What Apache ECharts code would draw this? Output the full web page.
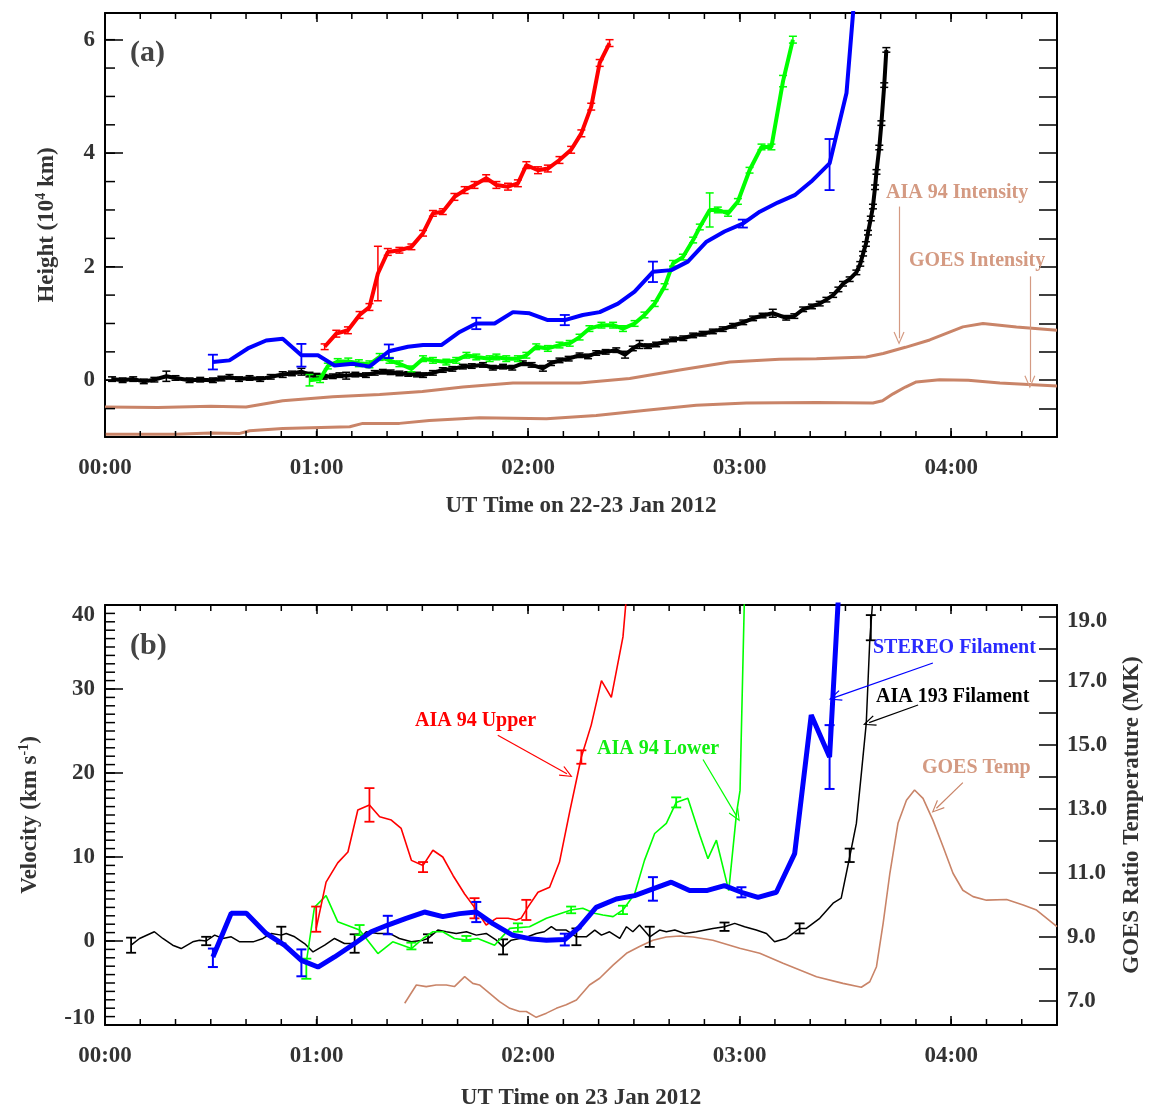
<!DOCTYPE html>
<html>
<head>
<meta charset="utf-8">
<script src="https://cdn.jsdelivr.net/npm/echarts@6/dist/echarts.min.js"></script>
<style>
  html, body { margin: 0; padding: 0; background: #fff; }
  #main { width: 1158px; height: 1118px; }
</style>
</head>
<body>
<div id="main"></div>
<script>
// time in minutes after 00:00 UT

// ---- panel (a): heights, 10^4 km ----
const aia94UpperHtTime = [62.3, 65.6, 68.9, 72.2, 75, 77.4, 80.2, 83.5, 86.9, 90.2, 93, 95.8, 99.1, 102, 104.8, 108.1, 111, 114.3, 117.1, 119.5, 122.8, 125.6, 128.9, 132.2, 135.1, 137.9, 140.3, 143.1];
const aia94UpperHt = [0.59, 0.82, 0.88, 1.15, 1.29, 1.88, 2.26, 2.29, 2.35, 2.59, 2.94, 2.97, 3.23, 3.35, 3.44, 3.56, 3.44, 3.41, 3.47, 3.79, 3.70, 3.73, 3.88, 4.06, 4.35, 4.82, 5.59, 5.94];
const aia94UpperHtErr = [0.05, 0.06, 0.06, 0.06, 0.06, 0.48, 0.06, 0.05, 0.05, 0.05, 0.05, 0.05, 0.06, 0.06, 0.06, 0.06, 0.06, 0.06, 0.06, 0.06, 0.06, 0.06, 0.06, 0.06, 0.06, 0.06, 0.06, 0.06];

const aia94LowerHtTime = [58, 61, 63.2, 66, 69, 72, 75, 77.9, 80.7, 83.5, 86.9, 90.2, 93, 96.8, 99.6, 102.5, 105.3, 109.1, 111, 113.8, 117.1, 119.5, 122.3, 125.6, 128.9, 131.8, 134.6, 137.4, 140.8, 144.1, 146.9, 150.2, 153, 155.9, 158.7, 161.1, 163.9, 166.8, 168.7, 171.5, 173.8, 176.7, 179.5, 182.8, 186.2, 189, 192.3, 195.1];
const aia94LowerHt = [0.0, 0.02, 0.25, 0.33, 0.33, 0.3, 0.28, 0.41, 0.35, 0.29, 0.2, 0.38, 0.35, 0.32, 0.35, 0.44, 0.41, 0.38, 0.41, 0.38, 0.38, 0.44, 0.59, 0.56, 0.62, 0.65, 0.76, 0.91, 0.97, 0.97, 0.91, 1.0, 1.15, 1.35, 1.65, 2.06, 2.17, 2.47, 2.7, 3.0, 3.0, 2.94, 3.15, 3.7, 4.11, 4.11, 5.27, 6.0];
const aia94LowerHtErr = [0.1, 0.06, 0.05, 0.05, 0.06, 0.06, 0.06, 0.06, 0.05, 0.05, 0.05, 0.05, 0.05, 0.05, 0.05, 0.05, 0.05, 0.05, 0.05, 0.05, 0.05, 0.05, 0.05, 0.05, 0.05, 0.05, 0.05, 0.05, 0.05, 0.05, 0.05, 0.05, 0.05, 0.05, 0.05, 0.05, 0.05, 0.05, 0.05, 0.3, 0.05, 0.05, 0.05, 0.05, 0.05, 0.05, 0.1, 0.06];

const stereoHtTime = [30.6, 35.3, 40.5, 45.7, 50.4, 55.7, 60.4, 65.1, 70.3, 75, 80.5, 85.9, 90.2, 95.4, 100.6, 105.3, 110.5, 115.7, 120.4, 125.6, 130.4, 135.5, 140.3, 145.5, 150.2, 155.4, 160.6, 165.3, 170.6, 175.7, 180.9, 185.7, 190.8, 195.6, 200.3, 205.5, 210.3, 212.6];
const stereoHt = [0.32, 0.35, 0.56, 0.7, 0.73, 0.44, 0.44, 0.26, 0.29, 0.24, 0.51, 0.59, 0.62, 0.62, 0.85, 1.0, 1.0, 1.2, 1.18, 1.06, 1.06, 1.15, 1.2, 1.35, 1.56, 1.91, 1.94, 2.09, 2.44, 2.62, 2.76, 2.97, 3.13, 3.26, 3.5, 3.82, 5.06, 6.8];
const stereoHtErrBars = [[30.6, 0.32, 0.13], [55.7, 0.44, 0.2], [80.5, 0.51, 0.12], [105.3, 1.0, 0.1], [130.4, 1.06, 0.09], [155.4, 1.91, 0.18], [180.9, 2.76, 0.07], [205.5, 3.8, 0.45]];

const aia193HtTime = [2, 5, 8, 11, 14, 17.4, 20, 24, 27, 30.6, 33, 35.3, 38, 41, 44, 47, 50.4, 53, 55.7, 58, 60, 62, 64.6, 66.5, 68.4, 71, 74, 76.5, 78.8, 81, 83.5, 86, 88.5, 90.2, 93, 95.8, 98.5, 101.5, 104, 107.2, 110, 112.9, 115.5, 118.5, 121, 124.2, 126.5, 128.9, 131.5, 134.6, 137, 139.3, 142, 145, 147.5, 149.7, 151.6, 154, 156.3, 158.8, 161.1, 164, 166.8, 169.5, 172.4, 175.2, 178.1, 181, 183.8, 186.5, 189.4, 193.2, 195.5, 198, 200.5, 202.7, 204.6, 206.5, 208, 209.3, 211.2, 213.1, 214.2, 215, 215.8, 216.4, 217.2, 217.8, 218.4, 218.8, 219.6, 220.2, 221, 221.6];
const aia193Ht = [0.02, 0.0, 0.02, -0.02, 0.01, 0.07, 0.04, 0.0, 0.01, 0.0, 0.03, 0.06, 0.02, 0.04, 0.02, 0.06, 0.1, 0.12, 0.15, 0.1, 0.08, 0.06, 0.07, 0.09, 0.08, 0.1, 0.09, 0.13, 0.15, 0.14, 0.12, 0.11, 0.1, 0.09, 0.13, 0.18, 0.2, 0.24, 0.25, 0.27, 0.22, 0.24, 0.22, 0.3, 0.27, 0.21, 0.3, 0.35, 0.38, 0.44, 0.42, 0.48, 0.5, 0.53, 0.45, 0.56, 0.63, 0.6, 0.63, 0.68, 0.72, 0.74, 0.79, 0.82, 0.86, 0.9, 0.96, 1.02, 1.09, 1.14, 1.18, 1.1, 1.13, 1.25, 1.3, 1.35, 1.42, 1.5, 1.6, 1.7, 1.78, 1.9, 2.05, 2.23, 2.4, 2.6, 2.85, 3.06, 3.4, 3.67, 4.1, 4.53, 5.2, 5.82];
const aia193HtErr = [0.04, 0.04, 0.04, 0.04, 0.04, 0.09, 0.04, 0.04, 0.04, 0.04, 0.04, 0.04, 0.04, 0.04, 0.04, 0.04, 0.05, 0.04, 0.06, 0.04, 0.04, 0.04, 0.04, 0.04, 0.06, 0.04, 0.04, 0.04, 0.04, 0.04, 0.04, 0.04, 0.04, 0.04, 0.04, 0.04, 0.04, 0.04, 0.04, 0.04, 0.04, 0.04, 0.04, 0.04, 0.04, 0.05, 0.04, 0.04, 0.04, 0.04, 0.04, 0.04, 0.04, 0.04, 0.06, 0.04, 0.07, 0.04, 0.04, 0.04, 0.04, 0.04, 0.04, 0.04, 0.04, 0.04, 0.04, 0.04, 0.04, 0.04, 0.07, 0.04, 0.04, 0.04, 0.04, 0.04, 0.04, 0.04, 0.04, 0.04, 0.04, 0.04, 0.04, 0.04, 0.04, 0.04, 0.04, 0.04, 0.04, 0.04, 0.04, 0.04, 0.04, 0.04];

// normalised intensity curves drawn in height units
const aia94IntTime = [0, 15, 30, 40, 50.4, 64.6, 77.9, 90, 101.5, 115.7, 134.6, 148.8, 163, 177.2, 191.3, 201.8, 215.9, 220.7, 227, 233.9, 243.3, 249, 258.5, 270];
const aia94Int = [-0.47, -0.48, -0.46, -0.47, -0.36, -0.29, -0.25, -0.2, -0.12, -0.05, -0.05, 0.03, 0.18, 0.32, 0.37, 0.38, 0.41, 0.47, 0.58, 0.71, 0.94, 1.0, 0.94, 0.88];
const goesIntTime = [0, 20, 30, 38, 41, 50.4, 69.4, 73.1, 83.5, 92, 106.2, 125.2, 139.3, 153.5, 167.7, 181.9, 201.8, 217.8, 220.5, 223.5, 227, 230.1, 236.7, 244.8, 253.8, 270];
const goesInt = [-0.95, -0.95, -0.93, -0.94, -0.89, -0.85, -0.82, -0.76, -0.76, -0.71, -0.66, -0.68, -0.62, -0.53, -0.44, -0.40, -0.39, -0.40, -0.36, -0.24, -0.12, -0.03, 0.01, 0.0, -0.05, -0.1];

// ---- panel (b): velocities, km/s ; GOES temperature, MK ----
const upperVelTime = [59.9, 62.7, 66.0, 68.9, 71.7, 75.0, 77.9, 81.2, 84.0, 86.9, 90.2, 93.0, 95.8, 98.7, 102.0, 104.8, 108.1, 111.0, 114.3, 116.6, 118.0, 119.9, 122.8, 126.1, 128.9, 131.8, 135.1, 137.9, 140.8, 143.6, 146.9, 148.5];
const upperVel = [1.5, 7.0, 9.3, 10.6, 15.6, 16.2, 14.8, 14.4, 13.4, 9.6, 9.0, 10.8, 10.0, 7.8, 5.6, 4.0, 1.9, 2.7, 2.7, 2.5, 2.7, 4.0, 5.8, 6.4, 9.4, 15.4, 21.9, 25.7, 31.0, 29.0, 36.2, 44];
const upperVelErrBars = [[59.9, 2.6, 1.5], [75.0, 16.2, 2.0], [90.2, 8.8, 0.6], [104.8, 3.9, 1.2], [119.5, 3.7, 1.2], [135.1, 21.9, 0.8]];

const lowerVelTime = [57.1, 59.4, 62.7, 66.0, 72.2, 77.4, 81.6, 86.9, 90.2, 93.0, 95.8, 99.1, 102.5, 105.7, 110.5, 114.8, 120.4, 125.2, 132.2, 135.5, 138.8, 141.2, 144.1, 146.9, 150.2, 153.0, 155.9, 159.2, 162.0, 165.3, 168.7, 171.0, 173.4, 176.9, 179.1, 180.1, 181.3, 181.8];
const lowerVel = [-2.5, 4.0, 5.4, 2.3, 1.3, -1.5, -0.1, -0.9, 0.3, 1.1, 1.1, 0.3, 0.1, 0.3, -0.5, 1.5, 1.7, 2.7, 3.7, 3.9, 3.3, 3.1, 2.9, 3.7, 5.6, 9.6, 12.8, 14.0, 16.5, 17.0, 12.6, 9.8, 12.0, 6.0, 15.2, 17.9, 40, 44];
const lowerVelErrBars = [[57.1, -3.3, 1.2], [72.2, 1.3, 0.6], [86.9, -0.6, 0.4], [102.5, 0.3, 0.3], [117.1, 1.6, 0.5], [132.2, 3.7, 0.4], [146.9, 3.7, 0.5], [162.0, 16.5, 0.6]];

const stereoVelTime = [30.6, 35.8, 40.1, 45.7, 50.9, 55.7, 60.4, 65.1, 70.8, 75.5, 80.2, 85.4, 90.6, 95.8, 100.6, 105.3, 110.0, 115.7, 120.4, 125.2, 130.4, 134.6, 139.3, 145.0, 150.2, 155.4, 160.6, 165.8, 170.6, 175.7, 180.5, 185.2, 190.4, 195.6, 200.3, 205.5, 207.9, 208.5];
const stereoVel = [-1.9, 3.3, 3.3, 0.9, -0.5, -2.3, -3.1, -1.9, -0.3, 1.1, 1.9, 2.7, 3.45, 2.9, 3.26, 3.45, 2.07, 0.68, 0.28, 0.08, 0.17, 1.67, 4.0, 5.0, 5.4, 6.2, 7.0, 6.0, 6.0, 6.6, 5.8, 5.2, 5.8, 10.4, 26.9, 21.9, 40.2, 44];
const stereoVelErrBars = [[30.6, -2.0, 1.1], [55.7, -2.6, 1.6], [80.2, 1.9, 1.1], [105.3, 3.45, 1.2], [130.4, 0.17, 0.7], [155.4, 6.2, 1.4], [180.5, 5.8, 0.6], [205.5, 21.9, 3.8]];

const aia193VelTime = [7.4, 9.8, 14, 16.4, 19.2, 21.6, 24.9, 26.8, 28.7, 31.1, 33.4, 35.8, 38.2, 42, 44.8, 47.2, 50, 51.4, 53.8, 56.6, 59, 62.3, 65.1, 67.9, 70.8, 74.1, 77.4, 80.7, 83.5, 86.9, 90.2, 91.6, 94.4, 96.8, 99.6, 102.5, 105.3, 108.1, 111, 112.9, 115.2, 117.6, 119.9, 122.3, 124.6, 126.6, 128, 130.8, 133.7, 136.5, 138.9, 140.8, 143.1, 146, 147.9, 149.7, 151.6, 154.5, 157.3, 159.2, 161.6, 164.4, 167.7, 172.4, 175.7, 178.6, 181.4, 184.7, 187.6, 189.9, 193.2, 197, 198.9, 202.7, 206.5, 208.8, 211.2, 213.1, 214.5, 215.9, 216.9, 217.6, 218.2];
const aia193Vel = [-0.5, 0.3, 1.1, 0.3, -0.5, -0.9, -0.1, 0.1, 0.0, 0.7, 0.3, 0.5, -0.1, -0.1, 0.3, 0.9, 0.7, 0.9, 0.5, -0.3, -1.3, -0.5, 0.3, -0.3, -0.3, 1.1, 0.9, 0.9, 0.3, -0.1, 0.1, 0.3, 1.3, 1.1, 0.9, 1.1, 0.7, 0.9, 0.1, -0.7, 0.1, 0.3, 0.5, 0.9, 1.1, 1.7, 1.3, 1.3, 0.5, 0.5, 1.3, 0.7, 1.1, 0.3, 1.7, 1.1, 1.9, 0.5, 1.3, 1.1, 1.3, 0.9, 1.1, 1.5, 1.7, 2.1, 1.7, 1.3, 0.9, -0.1, 0.3, 1.5, 1.5, 2.7, 4.5, 5.1, 10.0, 14.0, 19.9, 25.9, 35.8, 39.8, 44];
const aia193VelErrBars = [[7.4, -0.5, 0.9], [28.7, 0.0, 0.5], [50.0, 0.7, 1.0], [70.8, -0.3, 1.1], [91.6, 0.3, 0.5], [112.9, -0.7, 0.9], [133.7, 0.5, 1.0], [154.5, 0.5, 1.2], [175.7, 1.7, 0.5], [197.0, 1.5, 0.6], [211.2, 10.2, 0.8], [217.2, 37.3, 1.5]];

const goesTempTime = [85, 88.3, 91.1, 93.9, 96.8, 99.1, 102, 104.3, 106.2, 109.1, 111.9, 114.8, 117.6, 119.5, 122.3, 125.2, 128, 130.8, 133.7, 137.4, 140.3, 144.1, 147.9, 151.6, 155.4, 159.2, 163, 166.8, 172.4, 180, 185.7, 192.3, 201.8, 209.3, 214.5, 216.9, 218.8, 220.7, 222.6, 224.9, 227.3, 229.6, 232, 234.8, 237.7, 240.5, 243.3, 246.2, 250, 255.7, 260.4, 264.2, 270];
const goesTemp = [6.93, 7.5, 7.45, 7.5, 7.5, 7.45, 7.76, 7.55, 7.5, 7.24, 6.98, 6.77, 6.67, 6.67, 6.49, 6.62, 6.77, 6.88, 7.03, 7.5, 7.71, 8.12, 8.49, 8.7, 8.9, 9.0, 9.03, 9.0, 8.9, 8.65, 8.49, 8.18, 7.76, 7.55, 7.43, 7.6, 8.07, 9.43, 10.99, 12.55, 13.27, 13.59, 13.33, 12.65, 11.82, 10.99, 10.46, 10.26, 10.15, 10.17, 10.0, 9.84, 9.32];

// tick labels
const hourTicks = [0, 60, 120, 180, 240];
const heightTicks = [0, 2, 4, 6];
const velTicks = [-10, 0, 10, 20, 30, 40];
const tempTicks = [7, 9, 11, 13, 15, 17, 19];

// annotation arrows [[t0, v0], [t1, v1]] in each panel's data units
const arrowAia94Int = [[225.2, 3.06], [225.2, 0.74]];
const arrowGoesInt = [[262.3, 1.83], [262.3, -0.03]];
const arrowUpper = [[111.4, 24.5], [131.0, 19.9]];
const arrowLower = [[169.6, 21.6], [179.1, 14.9]];
const arrowStereo = [[234.8, 33.1], [207.0, 29.0]];
const arrowAia193 = [[230.6, 28.1], [216.7, 26.0]];
const arrowGoesTemp = [[243.3, 13.82], [235.8, 13.02]];

const FONT = 'Liberation Serif';
const TXT = '#333';
const BROWN = '#c98468';
const BROWN_TXT = '#d49a82';
const RED = '#ff0000', GREEN = '#00ff00', BLUE = '#0000ff', BLACK = '#000000';

const X_MIN = 0, X_MAX = 270;
const H_MIN = -1, H_MAX = 6.47;
const V_MIN = -10, V_MAX = 40;
const T_MIN = 6.25, T_MAX = 19.37;

function steps(from, to, step) {
  const out = [];
  for (let v = from; v <= to + 1e-9; v += step) out.push(Math.round(v * 100) / 100);
  return out;
}

const chart = echarts.init(document.getElementById('main'));

const pairs = (ts, vs) => ts.map((t, i) => [t, vs[i]]);
const barsOf = (ts, vs, es) => ts.map((t, i) => [t, vs[i] - es[i], vs[i] + es[i]]);
const barsFrom = list => list.map(d => [d[0], d[1] - d[2], d[1] + d[2]]);

function errRender(cap, width) {
  return function (params, api) {
    const p1 = api.coord([api.value(0), api.value(1)]);
    const p2 = api.coord([api.value(0), api.value(2)]);
    const st = { stroke: api.visual('color'), lineWidth: width };
    return {
      type: 'group',
      children: [
        { type: 'line', shape: { x1: p1[0], y1: p1[1], x2: p2[0], y2: p2[1] }, style: st },
        { type: 'line', shape: { x1: p1[0] - cap, y1: p1[1], x2: p1[0] + cap, y2: p1[1] }, style: st },
        { type: 'line', shape: { x1: p2[0] - cap, y1: p2[1], x2: p2[0] + cap, y2: p2[1] }, style: st }
      ]
    };
  };
}

// minor tick marks on the frame, placed through the axes' own scales
function minorTicks(xi, yi, values, dir, len, yLo, yHi) {
  return {
    type: 'custom', xAxisIndex: xi, yAxisIndex: yi, silent: true, clip: false, animation: false, z: 10,
    data: values.map(v => dir === 'x' ? [v, yLo] : [X_MIN, v]),
    encode: { x: 0, y: 1 },
    renderItem: function (params, api) {
      const st = { stroke: '#000', lineWidth: 1.5 };
      if (dir === 'x') {
        const b = api.coord([api.value(0), yLo]);
        const t = api.coord([api.value(0), yHi]);
        return {
          type: 'group', children: [
            { type: 'line', shape: { x1: b[0], y1: b[1], x2: b[0], y2: b[1] - len }, style: st },
            { type: 'line', shape: { x1: t[0], y1: t[1], x2: t[0], y2: t[1] + len }, style: st }
          ]
        };
      }
      const l = api.coord([X_MIN, api.value(1)]);
      return { type: 'line', shape: { x1: l[0], y1: l[1], x2: l[0] + len, y2: l[1] }, style: st };
    }
  };
}

const CHEVRON = 'path://M0,12 L5,0 L10,12 L9,12.6 L5,2.6 L1,12.6 Z';

function arrow(a, color) {
  return {
    silent: true,
    animation: false,
    symbol: ['none', CHEVRON],
    symbolSize: [11, 13],
    label: { show: false },
    lineStyle: { color: color, width: 1.2, type: 'solid' },
    emphasis: { disabled: true },
    data: [[{ coord: a[0] }, { coord: a[1] }]]
  };
}

function lineS(xi, yi, data, color, width, z, extra) {
  return Object.assign({
    type: 'line', xAxisIndex: xi, yAxisIndex: yi, data: data,
    symbol: 'none', showSymbol: false, clip: true, animation: false, z: z,
    lineStyle: { color: color, width: width }, itemStyle: { color: color }
  }, extra || {});
}

function errS(xi, yi, data, color, cap, width, z) {
  return {
    type: 'custom', xAxisIndex: xi, yAxisIndex: yi, data: data,
    renderItem: errRender(cap, width), clip: true, animation: false, z: z,
    encode: { x: 0, y: [1, 2] }, itemStyle: { color: color }
  };
}

const labelFont = { fontFamily: FONT, fontWeight: 'bold', fontSize: 23, color: TXT };
const frameLine = { show: true, onZero: false, lineStyle: { color: '#000', width: 2 } };
const tick = (len, values) => ({ show: true, inside: true, length: len, customValues: values, lineStyle: { color: '#000', width: 1.5 } });

function xMain(grid, title, nameGap) {
  const base = { gridIndex: grid, type: 'value', min: X_MIN, max: X_MAX, splitLine: { show: false } };
  return [
    Object.assign({}, base, {
      position: 'bottom', axisLine: frameLine, axisTick: tick(9, hourTicks),
      axisLabel: Object.assign({ customValues: hourTicks, margin: 20, formatter: v => String(v / 60).padStart(2, '0') + ':00' }, labelFont),
      name: title, nameLocation: 'middle', nameGap: nameGap, nameTextStyle: labelFont
    }),
    Object.assign({}, base, { position: 'top', axisLine: frameLine, axisTick: tick(9, hourTicks), axisLabel: { show: false } })
  ];
}

function supRich() {
  return { sup: { fontFamily: FONT, fontWeight: 'bold', fontSize: 14, color: TXT, verticalAlign: 'top', padding: [0, 0, 12, 0] } };
}

const yAxes = [
  // 0: height, left, labelled
  {
    gridIndex: 0, type: 'value', min: H_MIN, max: H_MAX, position: 'left', splitLine: { show: false },
    axisLine: frameLine, axisTick: tick(18, heightTicks),
    axisLabel: Object.assign({ customValues: heightTicks, margin: 10 }, labelFont),
    name: 'Height (10{sup|4} km)', nameLocation: 'middle', nameGap: 45, nameRotate: 90,
    nameTextStyle: Object.assign({ rich: supRich() }, labelFont)
  },
  // 1: height right frame
  {
    gridIndex: 0, type: 'value', min: H_MIN, max: H_MAX, position: 'right', splitLine: { show: false },
    axisLine: frameLine, axisTick: tick(18, steps(H_MIN, H_MAX, 0.5)), axisLabel: { show: false }
  },
  // 2: velocity, left, labelled
  {
    gridIndex: 1, type: 'value', min: V_MIN, max: V_MAX, position: 'left', splitLine: { show: false },
    axisLine: frameLine, axisTick: tick(18, velTicks),
    axisLabel: Object.assign({
      customValues: velTicks, margin: 10,
      formatter: v => v === V_MAX ? '{dn|' + v + '}' : (v === V_MIN ? '{up|' + v + '}' : String(v)),
      rich: {
        dn: Object.assign({ padding: [20, 0, 0, 0] }, labelFont),
        up: Object.assign({ padding: [0, 0, 14, 0] }, labelFont)
      }
    }, labelFont),
    name: 'Velocity (km s{sup|-1})', nameLocation: 'middle', nameGap: 62, nameRotate: 90,
    nameTextStyle: Object.assign({ rich: supRich() }, labelFont)
  },
  // 3: temperature, right
  {
    gridIndex: 1, type: 'value', min: T_MIN, max: T_MAX, position: 'right', splitLine: { show: false },
    axisLine: frameLine, axisTick: tick(18, steps(7, 19, 1)),
    axisLabel: Object.assign({
      customValues: tempTicks, margin: 10,
      formatter: v => v === 19 ? '{dn|' + v.toFixed(1) + '}' : v.toFixed(1),
      rich: { dn: Object.assign({ padding: [9, 0, 0, 0] }, labelFont) }
    }, labelFont),
    name: 'GOES Ratio Temperature (MK)', nameLocation: 'middle', nameGap: 64, nameRotate: 90,
    nameTextStyle: labelFont
  }
];

// x axis indices: 0 (a) bottom, 1 (a) top, 2 (b) bottom, 3 (b) top
const XA = 0, XB = 2;
const YH = 0, YV = 2, YT = 3;

const series = [
  // frame minor ticks
  minorTicks(XA, YH, steps(X_MIN, X_MAX, 10), 'x', 6, H_MIN, H_MAX),
  minorTicks(XA, YH, steps(H_MIN, H_MAX, 0.5), 'y', 10),
  minorTicks(XB, YV, steps(X_MIN, X_MAX, 10), 'x', 6, V_MIN, V_MAX),
  minorTicks(XB, YV, steps(V_MIN, V_MAX, 1), 'y', 10),
  // panel (a)
  lineS(XA, YH, pairs(aia94IntTime, aia94Int), BROWN, 3, 2, { markLine: arrow(arrowAia94Int, BROWN_TXT) }),
  lineS(XA, YH, pairs(goesIntTime, goesInt), BROWN, 3, 2, { markLine: arrow(arrowGoesInt, BROWN_TXT) }),
  lineS(XA, YH, pairs(aia193HtTime, aia193Ht), BLACK, 4, 3),
  errS(XA, YH, barsOf(aia193HtTime, aia193Ht, aia193HtErr), BLACK, 4, 1.5, 3),
  lineS(XA, YH, pairs(aia94LowerHtTime, aia94LowerHt), GREEN, 4, 4),
  errS(XA, YH, barsOf(aia94LowerHtTime, aia94LowerHt, aia94LowerHtErr), GREEN, 4, 1.5, 4),
  lineS(XA, YH, pairs(stereoHtTime, stereoHt), BLUE, 4, 5),
  errS(XA, YH, barsFrom(stereoHtErrBars), BLUE, 5, 1.8, 5),
  lineS(XA, YH, pairs(aia94UpperHtTime, aia94UpperHt), RED, 4, 6),
  errS(XA, YH, barsOf(aia94UpperHtTime, aia94UpperHt, aia94UpperHtErr), RED, 4, 1.5, 6),
  // panel (b)
  lineS(XB, YT, pairs(goesTempTime, goesTemp), BROWN, 1.6, 2, { markLine: arrow(arrowGoesTemp, BROWN) }),
  lineS(XB, YV, pairs(aia193VelTime, aia193Vel), BLACK, 1.5, 3, { markLine: arrow(arrowAia193, BLACK) }),
  errS(XB, YV, barsFrom(aia193VelErrBars), BLACK, 5, 1.8, 3),
  lineS(XB, YV, pairs(lowerVelTime, lowerVel), GREEN, 1.6, 4, { markLine: arrow(arrowLower, GREEN) }),
  errS(XB, YV, barsFrom(lowerVelErrBars), GREEN, 5, 1.8, 4),
  lineS(XB, YV, pairs(upperVelTime, upperVel), RED, 1.6, 5, { markLine: arrow(arrowUpper, RED) }),
  errS(XB, YV, barsFrom(upperVelErrBars), RED, 5, 1.8, 5),
  lineS(XB, YV, pairs(stereoVelTime, stereoVel), BLUE, 5, 6, { markLine: arrow(arrowStereo, BLUE) }),
  errS(XB, YV, barsFrom(stereoVelErrBars), BLUE, 5, 2, 6)
];

function note(x, y, text, color, size) {
  return {
    type: 'text', x: x, y: y, z: 100, silent: true,
    style: { text: text, fill: color, font: 'bold ' + size + 'px "' + FONT + '"', align: 'left', verticalAlign: 'middle' }
  };
}

const graphics = [
  note(130, 53, '(a)', '#444', 30),
  note(130, 646, '(b)', '#444', 30),
  note(886, 193, 'AIA 94 Intensity', BROWN_TXT, 20),
  note(909, 261, 'GOES Intensity', BROWN_TXT, 20),
  note(415, 721, 'AIA 94 Upper', RED, 20),
  note(597, 749, 'AIA 94 Lower', '#11ee11', 20),
  note(873, 648, 'STEREO Filament', '#2a2aff', 20),
  note(876, 697, 'AIA 193 Filament', BLACK, 20),
  note(922, 768, 'GOES Temp', BROWN_TXT, 20)
];

chart.setOption({
  backgroundColor: '#fff',
  animation: false,
  grid: [
    { left: 105, top: 13, width: 952, height: 424 },
    { left: 105, top: 605, width: 952, height: 420 }
  ],
  xAxis: xMain(0, 'UT Time on 22-23 Jan 2012', 58).concat(xMain(1, 'UT Time on 23 Jan 2012', 62)),
  yAxis: yAxes,
  series: series,
  graphic: graphics
});
</script>
</body>
</html>
